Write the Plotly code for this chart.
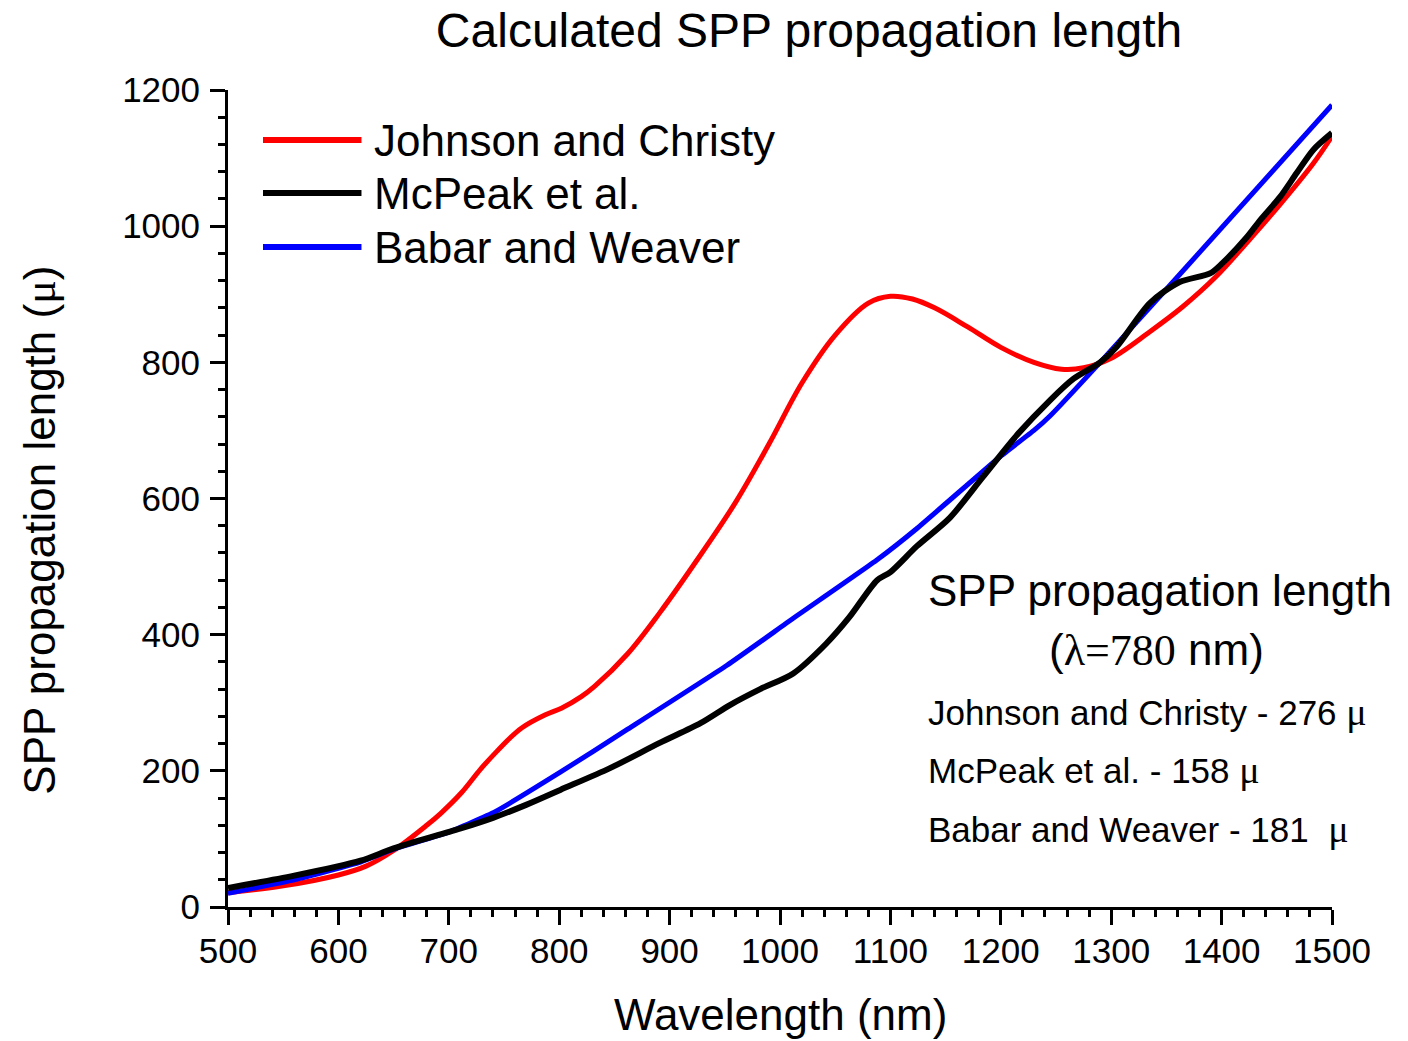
import plotly.graph_objects as go

# ---- data ----
wl_jc = [500, 550, 600, 625, 650, 680, 693, 711, 729, 742, 754, 766, 787, 802, 820, 832,
         862, 891, 925, 960, 990, 1020, 1050, 1080, 1100, 1120, 1140, 1170, 1200, 1230,
         1255, 1275, 1300, 1335, 1365, 1395, 1423, 1453, 1483, 1500]
len_jc = [21, 31, 47, 60, 83, 120, 138, 167, 203, 226, 246, 263, 282, 292, 309, 324,
          372, 432, 510, 595, 680, 770, 840, 887, 897, 893, 880, 852, 822, 800,
          790, 792, 806, 845, 882, 926, 976, 1032, 1092, 1132]

wl_mp = [500, 560, 620, 650, 710, 740, 770, 801, 846, 891, 928, 955, 982, 1012, 1042,
         1063, 1088, 1100, 1124, 1154, 1184, 1214, 1245, 1266, 1290, 1305, 1335, 1362,
         1390, 1401, 1423, 1435, 1453, 1468, 1483, 1500]
len_mp = [28, 46, 68, 86, 115, 131, 150, 172, 204, 241, 270, 297, 320, 343, 387,
          426, 480, 492, 530, 572, 632, 692, 745, 776, 800, 823, 887, 918,
          931, 946, 984, 1009, 1043, 1078, 1112, 1137]

wl_bw = [500, 560, 620, 650, 700, 742, 801, 861, 952, 1012, 1088, 1124, 1199, 1230,
         1245, 1290, 1362, 1500]
len_bw = [20, 40, 66, 85, 110, 140, 198, 260, 355, 424, 510, 556, 661, 700,
          722, 800, 929, 1178]

series_names = ["Johnson and Christy", "McPeak et al.", "Babar and Weaver"]
series_colors = ["#ff0000", "#000000", "#0000ff"]
results_780 = ["276", "158", "181 "]

x_ticks = list(range(500, 1501, 100))
y_ticks = list(range(0, 1201, 200))

FONT = "Liberation Sans, Arial, sans-serif"
SERIF = "Liberation Serif"

fig = go.Figure()
fig.add_trace(go.Scatter(x=wl_jc, y=len_jc, mode="lines", name=series_names[0],
                         line=dict(color=series_colors[0], width=5, shape="spline", smoothing=1.0),
                         showlegend=False))
fig.add_trace(go.Scatter(x=wl_bw, y=len_bw, mode="lines", name=series_names[2],
                         line=dict(color=series_colors[2], width=5, shape="spline", smoothing=0.4),
                         showlegend=False))
fig.add_trace(go.Scatter(x=wl_mp, y=len_mp, mode="lines", name=series_names[1],
                         line=dict(color=series_colors[1], width=6, shape="spline", smoothing=0.8),
                         showlegend=False))

# manual legend with long line samples
leg_y = [0.9388, 0.8739, 0.8078]
for name, col, yy in zip(series_names, series_colors, leg_y):
    fig.add_shape(type="line", xref="paper", yref="paper", x0=0.0317, x1=0.1209, y0=yy, y1=yy,
                  line=dict(color=col, width=6))
    fig.add_annotation(xref="paper", yref="paper", x=0.1306, y=yy, text=name, showarrow=False,
                       xanchor="left", yanchor="middle", font=dict(size=44, color="black", family=FONT))

mu = f"<span style=\"font-family:{SERIF}\">μ</span>"
mu_big = f"<span style=\"font-family:{SERIF};font-size:38px\">μ</span>"
annots = [
    (0.632, 0.388, "SPP propagation length", 44, "left"),
    (0.841, 0.3146, f"(<span style=\"font-family:{SERIF}\">λ=780</span> nm)", 44, "center"),
    (0.632, 0.2387, f"{series_names[0]} - {results_780[0]} {mu_big}", 35, "left"),
    (0.632, 0.1677, f"{series_names[1]} - {results_780[1]} {mu_big}", 35, "left"),
    (0.632, 0.0955, f"{series_names[2]} - {results_780[2]} {mu_big}", 35, "left"),
]
for x, y, t, s, xa in annots:
    fig.add_annotation(xref="paper", yref="paper", x=x, y=y, text=t, showarrow=False,
                       xanchor=xa, yanchor="middle", font=dict(size=s, color="black", family=FONT))

# axis titles as annotations for precise placement
fig.add_annotation(xref="paper", yref="paper", x=0.5, y=-0.132, text="Wavelength (nm)",
                   showarrow=False, xanchor="center", yanchor="middle",
                   font=dict(size=44, color="black", family=FONT))
fig.add_annotation(xref="paper", yref="paper", x=-0.170, y=0.461,
                   text=f"SPP propagation length ({mu})", textangle=-90,
                   showarrow=False, xanchor="center", yanchor="middle",
                   font=dict(size=44, color="black", family=FONT))

axis_common = dict(showline=True, linewidth=3, linecolor="black", showgrid=False, zeroline=False,
                   ticks="outside", ticklen=15, tickwidth=3, tickcolor="black",
                   tickfont=dict(size=35, color="black", family=FONT), mirror=False)

fig.update_xaxes(range=[500, 1500], tickvals=x_ticks, ticktext=[str(v) for v in x_ticks],
                 ticklabelstandoff=-4,
                 minor=dict(dtick=20, tick0=500, ticks="outside", ticklen=7, tickwidth=3,
                            tickcolor="black", showgrid=False),
                 **axis_common)
fig.update_yaxes(range=[0, 1200], tickvals=y_ticks, ticktext=[str(v) for v in y_ticks],
                 ticklabelstandoff=3,
                 minor=dict(dtick=40, tick0=0, ticks="outside", ticklen=7, tickwidth=3,
                            tickcolor="black", showgrid=False),
                 **axis_common)

fig.update_layout(
    width=1408, height=1041,
    margin=dict(l=228, r=76, t=90, b=134),
    paper_bgcolor="white", plot_bgcolor="white",
    title=dict(text="Calculated SPP propagation length", x=0.5263, xref="paper",
               y=1 - 30 / 1041, yref="container", xanchor="center", yanchor="middle",
               font=dict(size=48, color="black", family=FONT)),
    font=dict(family=FONT, color="black"),
    showlegend=False,
)

fig.write_html("out.html")
